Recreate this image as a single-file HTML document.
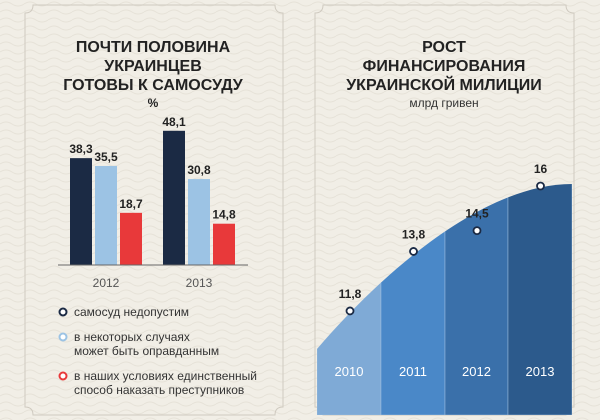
<!DOCTYPE html>
<html><head><meta charset="utf-8"><style>
body{margin:0;width:600px;height:420px;overflow:hidden;background:#f1eee6;font-family:"Liberation Sans",sans-serif}
svg{display:block}
</style></head><body>
<svg width="600" height="420">
<defs>
<pattern id="wave" width="24" height="8" patternUnits="userSpaceOnUse">
<path d="M0 4 Q6 0 12 4 T24 4" fill="none" stroke="#e6e2d8" stroke-width="1"/>
</pattern>
</defs>
<rect width="600" height="420" fill="#f1eee6"/>
<rect width="600" height="420" fill="url(#wave)"/>
<path d="M33 5 H275 Q275 13 283 13 V407 Q275 407 275 415 H33 Q33 407 25 407 V13 Q33 13 33 5 Z" fill="none" stroke="#cfcac0" stroke-width="1"/>
<path d="M323 5 H566 Q566 13 574 13 V407 Q566 407 566 415 H323 Q323 407 315 407 V13 Q323 13 323 5 Z" fill="none" stroke="#cfcac0" stroke-width="1"/>
<g font-weight="bold" font-size="16" fill="#222" text-anchor="middle">
<text x="153" y="52">ПОЧТИ ПОЛОВИНА</text><text x="153" y="71">УКРАИНЦЕВ</text><text x="153" y="90">ГОТОВЫ К САМОСУДУ</text></g>
<text x="153" y="107" font-size="12" font-weight="bold" text-anchor="middle" fill="#222">%</text>
<g id="bars"></g>
<line x1="58" y1="265" x2="248" y2="265" stroke="#666" stroke-width="1"/>
<g id="legend" font-size="12" fill="#333">
<circle cx="63" cy="312" r="3.5" fill="#fff" stroke="#1b2a44" stroke-width="2"/>
<text x="74" y="316">самосуд недопустим</text>
<circle cx="63" cy="337" r="3.5" fill="#fff" stroke="#9cc3e4" stroke-width="2"/>
<text x="74" y="341">в некоторых случаях</text>
<text x="74" y="355">может быть оправданным</text>
<circle cx="63" cy="376" r="3.5" fill="#fff" stroke="#e8393a" stroke-width="2"/>
<text x="74" y="380">в наших условиях единственный</text>
<text x="74" y="394">способ наказать преступников</text>
</g>
<g font-weight="bold" font-size="16" fill="#222" text-anchor="middle">
<text x="444" y="52">РОСТ</text><text x="444" y="71">ФИНАНСИРОВАНИЯ</text><text x="444" y="90">УКРАИНСКОЙ МИЛИЦИИ</text></g>
<text x="444" y="107" font-size="12" text-anchor="middle" fill="#333">млрд гривен</text>
<g id="area"></g>
</svg>
<script>
const groups=["2012","2013"];
const s1=[38.3,48.1];
const s2=[35.5,30.8];
const s3=[18.7,14.8];
const labels=[["38,3","35,5","18,7"],["48,1","30,8","14,8"]];
const years=["2010","2011","2012","2013"];
const funding=[11.8,13.8,14.5,16];
const fundLabels=["11,8","13,8","14,5","16"];
const NS="http://www.w3.org/2000/svg";
function mk(t,a,p){const e=document.createElementNS(NS,t);for(const k in a)e.setAttribute(k,a[k]);p.appendChild(e);return e;}
const bars=document.getElementById('bars');
const yB=v=>265-v*2.79;
const cols=["#1b2a44","#9cc3e4","#e8393a"];
const series=[s1,s2,s3];
groups.forEach((g,gi)=>{
  const gx=70+gi*93;
  series.forEach((s,si)=>{
    const x=gx+si*25, v=s[gi];
    const r=mk('rect',{x:x,y:yB(v),width:22,height:265-yB(v),fill:cols[si]},bars);
    
    
    const t=mk('text',{x:x+11,y:yB(v)-5,'text-anchor':'middle','font-size':'12','font-weight':'bold',fill:'#222'},bars);
    t.textContent=labels[gi][si];
    
    
  });
  const yl=mk('text',{x:gx+36,y:287,'text-anchor':'middle','font-size':'12',fill:'#555'},bars);
  yl.textContent=g;
  
  
});
const area=document.getElementById('area');
const yF=v=>244.75-29.75*(v-14.025);
const xF=i=>350+i*63.5;
const pts=funding.map((v,i)=>[xF(i),yF(v)]);
const n=funding.length-1;
const startY=yF(funding[0])+38;
const endY=yF(funding[n])-2;
const d=`M317 ${startY} C377 ${startY-70} 480 ${endY} 572 ${endY}`;
const clip=mk('clipPath',{id:'ac'},area);
mk('path',{d:d+' L572 415 L317 415 Z'},clip);
const fcols=["#7faad6","#4a88c8","#3a70aa","#2c5a8c"];
const bnd=[317,381,445,508,572];
years.forEach((y,i)=>{
  const r=mk('rect',{x:bnd[i],y:150,width:bnd[i+1]-bnd[i],height:265,fill:fcols[i],'clip-path':'url(#ac)',stroke:'#9fbfe0','stroke-width':'0.5'},area);
  
  
  const t=mk('text',{x:(bnd[i]+bnd[i+1])/2,y:376,'text-anchor':'middle','font-size':'13',fill:'#fff'},area);
  t.textContent=y;
  
  
});
pts.forEach((p,i)=>{
  const c=mk('circle',{cx:p[0],cy:p[1],r:3.5,fill:'#fff',stroke:'#1b2a44','stroke-width':'1.8'},area);
  
  
  const t=mk('text',{x:p[0],y:p[1]-13,'text-anchor':'middle','font-size':'12','font-weight':'bold',fill:'#222'},area);
  t.textContent=fundLabels[i];
  
  
});
</script>
</body></html>
